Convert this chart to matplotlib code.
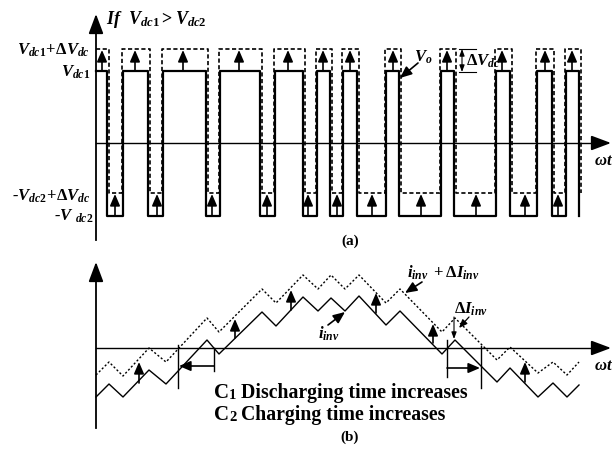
import matplotlib.pyplot as plt

plt.rcParams['mathtext.fontset'] = 'custom'
plt.rcParams['mathtext.rm'] = 'Liberation Serif:bold'
plt.rcParams['mathtext.it'] = 'Liberation Serif:bold:italic'
plt.rcParams['mathtext.bf'] = 'Liberation Serif:bold'
plt.rcParams['font.family'] = 'Liberation Serif'

# -------------------------------------------------------------------
# (a) 출력 전압 Vo : 펄스 엣지 (픽셀 단위)
# -------------------------------------------------------------------
v_start = 96
v_edges = [107, 123, 148, 163, 206, 220, 260, 275, 303, 317, 330, 343,
           357, 386, 399, 441, 454, 496, 510, 537, 552, 566, 579]
v_edges_d = [108.5, 121.5, 149.5, 161.5, 207.5, 218.5, 261.5, 273.5, 304.5,
             315.5, 331.5, 341.5, 358.5, 384.5, 400.5, 439.5, 455.5, 494.5,
             511.5, 535.5, 553.5, 564.5, 580.5]
v_high, v_low = 71, 216            # Vdc1, -Vdc2
v_high_d, v_low_d = 49, 193        # +ΔVdc
up_x_high = [102, 135, 183, 239, 288, 323, 350, 393, 447, 502, 545, 572]
up_x_low = [115, 157, 212, 267, 308, 337, 372, 421, 476, 525, 558]

# -------------------------------------------------------------------
# (b) 인버터 전류 i_inv
# -------------------------------------------------------------------
i_x = [96, 109, 123, 149, 166, 207, 219, 262, 276, 303, 318, 331, 345, 359,
       386, 400, 442, 455, 497, 510, 538, 553, 567, 579]
i_y = [397, 384, 397, 370, 384, 340, 354, 312, 326, 297, 311, 298, 311, 296,
       325, 311, 354, 340, 382, 368, 397, 383, 397, 385]
id_y = [375, 362, 376, 348, 362, 318, 332, 289, 303, 275, 289, 275, 289, 275,
        303, 289, 332, 318, 360, 347, 373, 362, 375, 362]
arr_x = [139, 235, 291, 376, 433, 525]
arr_y0 = [383, 338, 310, 313, 343, 382]
arr_y1 = [362, 319, 290, 293, 324, 362]


def step_wave(x0, edges, hi, lo):
    xs, ys = [x0], [hi]
    level = hi
    for e in edges:
        xs += [e, e]
        nxt = lo if level == hi else hi
        ys += [level, nxt]
        level = nxt
    return xs, ys


fig = plt.figure(figsize=(6.12, 4.58), dpi=100)
ax = fig.add_axes([0, 0, 1, 1])
ax.set_xlim(0, 612)
ax.set_ylim(458, 0)
ax.axis('off')

big = dict(arrowstyle='-|>,head_length=1.2,head_width=0.45', color='black', lw=1.3,
           shrinkA=0, shrinkB=0)
mid = dict(arrowstyle='-|>,head_length=0.7,head_width=0.3', color='black', lw=1.2,
           shrinkA=0, shrinkB=0)
small = dict(arrowstyle='-|>,head_length=0.5,head_width=0.2', color='black', lw=0.9,
             shrinkA=0, shrinkB=0)
bi = dict(weight='bold', style='italic')

# ---- (a) 축
ax.plot([96, 96], [240, 28], color='black', lw=1.3)
ax.annotate('', xy=(96, 14), xytext=(96, 30), arrowprops=big)
ax.plot([96, 596], [143, 143], color='black', lw=1.0)
ax.annotate('', xy=(611, 143), xytext=(595, 143), arrowprops=big)

xs, ys = step_wave(v_start, v_edges_d, v_high_d, v_low_d)
ax.plot(xs, ys, color='black', lw=1.2, ls=(0, (2.5, 1.5)))
xs, ys = step_wave(v_start, v_edges, v_high, v_low)
ax.plot(xs, ys, color='black', lw=1.6)

for x in up_x_high:
    ax.annotate('', xy=(x, v_high_d + 1), xytext=(x, v_high), arrowprops=mid)
for x in up_x_low:
    ax.annotate('', xy=(x, v_low_d + 1), xytext=(x, v_low), arrowprops=mid)

ax.text(106, 20, r'$If\ \ V_{dc1} > V_{dc2}$', fontsize=13, va='center')
ax.text(90, 50, r'$V_{dc1}\!+\!\Delta V_{dc}$', fontsize=12, ha='right', va='center')
ax.text(90, 72, r'$V_{dc1}$', fontsize=12, ha='right', va='center')
ax.text(90, 196, r'-$V_{dc2}\!+\!\Delta V_{dc}$', fontsize=12, ha='right', va='center', **bi)
ax.text(93, 216, r'-$V\ _{dc2}$', fontsize=12, ha='right', va='center', **bi)
ax.text(594, 161, r'$\omega t$', fontsize=12, va='center')

ax.text(414, 57, r'$V_o$', fontsize=12, va='center')
ax.annotate('', xy=(400, 78), xytext=(418, 63), arrowprops=mid)
ax.plot([459, 476], [49, 49], color='black', lw=0.8)
ax.plot([459, 476], [72, 72], color='black', lw=0.8)
ax.annotate('', xy=(462, 49), xytext=(462, 72),
            arrowprops=dict(arrowstyle='<|-|>,head_length=0.4,head_width=0.15',
                            color='black', lw=0.8, shrinkA=0, shrinkB=0))
ax.text(466, 61, r'$\Delta V_{dc}$', fontsize=12, va='center')
ax.text(350, 241, '(a)', fontsize=11, fontweight='bold', ha='center', va='center')

# ---- (b) 축
ax.plot([96, 96], [428, 277], color='black', lw=1.3)
ax.annotate('', xy=(96, 262), xytext=(96, 278), arrowprops=big)
ax.plot([96, 596], [348, 348], color='black', lw=1.0)
ax.annotate('', xy=(611, 348), xytext=(595, 348), arrowprops=big)

ax.plot(i_x, id_y, color='black', lw=1.0, ls=(0, (1.5, 1.5)))
ax.plot(i_x, i_y, color='black', lw=1.0)
for x, y0, y1 in zip(arr_x, arr_y0, arr_y1):
    ax.annotate('', xy=(x, y1), xytext=(x, y0), arrowprops=mid)

# 충/방전 시간 변화
ax.plot([178, 178], [345, 388], color='black', lw=1.0)
ax.plot([214, 214], [348, 371], color='black', lw=1.0)
ax.annotate('', xy=(179, 366), xytext=(214, 366), arrowprops=mid)
ax.plot([447, 447], [340, 377], color='black', lw=1.0)
ax.plot([481, 481], [346, 388], color='black', lw=1.0)
ax.annotate('', xy=(480, 368), xytext=(447, 368), arrowprops=mid)

ax.annotate('', xy=(454, 339), xytext=(454, 317),
            arrowprops=dict(arrowstyle='-|>,head_length=0.4,head_width=0.15',
                            color='black', lw=0.8, shrinkA=0, shrinkB=0))
ax.text(454, 309, r'$\Delta I_{inv}$', fontsize=12, va='center')
ax.annotate('', xy=(459, 328), xytext=(469, 317), arrowprops=small)

ax.text(407, 273, r'$i_{inv}\ +\Delta I_{inv}$', fontsize=12, va='center')
ax.annotate('', xy=(405, 293), xytext=(422, 282), arrowprops=mid)
ax.text(318, 334, r'$i_{inv}$', fontsize=12, va='center')
ax.annotate('', xy=(345, 312), xytext=(328, 325), arrowprops=mid)

ax.text(594, 366, r'$\omega t$', fontsize=12, va='center')

# C1 / C2 문구
for base, num, txt in [(398, '1', 'Discharging time increases'),
                       (420, '2', 'Charging time increases')]:
    ax.text(214, base, 'C', fontsize=15, fontweight='bold', va='baseline')
    ax.text(229, base + 1, num, fontsize=10.5, fontweight='bold', va='baseline')
    ax.text(241, base, txt, fontsize=14.2, fontweight='bold', va='baseline')
ax.text(350, 437, '(b)', fontsize=11, fontweight='bold', ha='center', va='center')

plt.savefig('out.png', dpi=100)
